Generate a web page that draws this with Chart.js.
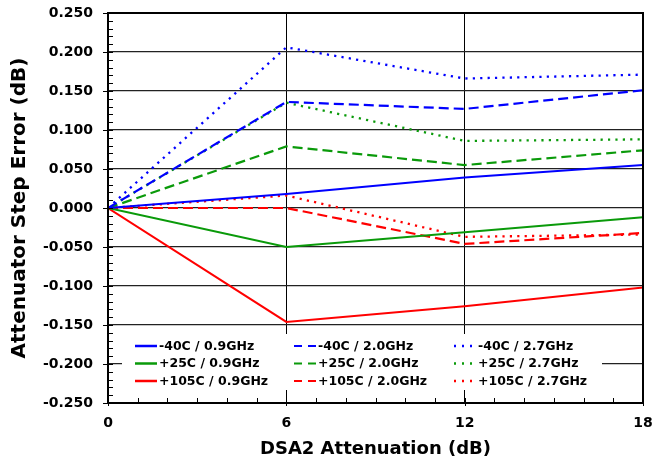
<!DOCTYPE html>
<html>
<head>
<meta charset="utf-8">
<script src="https://cdn.jsdelivr.net/npm/chart.js@4.4.0/dist/chart.umd.min.js"></script>
<style>
  html, body { margin: 0; padding: 0; background: #fff; }
</style>
</head>
<body>
<canvas id="chart" width="655" height="465"></canvas>
<script>
// DSA2 attenuation settings (dB)
const attenuation = [0, 6, 12, 18];

// step error (dB), 0.9 GHz
const m40_09 = [0, 0.018, 0.039, 0.055];
const p25_09 = [0, -0.050, -0.031, -0.012];
const p105_09 = [0, -0.146, -0.126, -0.102];
// 2.0 GHz
const m40_20 = [0, 0.136, 0.127, 0.151];
const p25_20 = [0, 0.079, 0.055, 0.074];
const p105_20 = [0, 0.000, -0.046, -0.032];
// 2.7 GHz
const m40_27 = [0, 0.206, 0.166, 0.171];
const p25_27 = [0, 0.135, 0.086, 0.088];
const p105_27 = [0, 0.016, -0.037, -0.034];

const yTicksMin = -0.25, yTicksMax = 0.25, yStep = 0.05;

const BLUE = '#0000ff', GREEN = '#0a9a0a', RED = '#ff0000';
const SOLID = [], DASHED = [10, 5], DOTTED = [2.2, 5.2];

// legend order: columns = frequency, rows = temperature
const series = [
  { label: '-40C / 0.9GHz', values: m40_09, color: BLUE, dash: SOLID, width: 2 },
  { label: '+25C / 0.9GHz', values: p25_09, color: GREEN, dash: SOLID, width: 2 },
  { label: '+105C / 0.9GHz', values: p105_09, color: RED, dash: SOLID, width: 2 },
  { label: '-40C / 2.0GHz', values: m40_20, color: BLUE, dash: DASHED, width: 2.2 },
  { label: '+25C / 2.0GHz', values: p25_20, color: GREEN, dash: DASHED, width: 2.2 },
  { label: '+105C / 2.0GHz', values: p105_20, color: RED, dash: DASHED, width: 2.2 },
  { label: '-40C / 2.7GHz', values: m40_27, color: BLUE, dash: DOTTED, width: 2.3 },
  { label: '+25C / 2.7GHz', values: p25_27, color: GREEN, dash: DOTTED, width: 2.3 },
  { label: '+105C / 2.7GHz', values: p105_27, color: RED, dash: DOTTED, width: 2.3 },
];

const FONT = "'DejaVu Sans', Verdana, sans-serif";

// inward ticks, full frame and a 3x3 legend box
const frameAndLegend = {
  id: 'frameAndLegend',
  afterDraw(chart) {
    const ctx = chart.ctx;
    const { left, right, top, bottom } = chart.chartArea;
    const xs = chart.scales.x, ys = chart.scales.y;
    ctx.save();
    ctx.strokeStyle = '#000';
    ctx.lineWidth = 1;
    for (let v = -250; v <= 250; v += 10) {
      const py = Math.round(ys.getPixelForValue(v / 1000)) + 0.5;
      const major = v % 50 === 0;
      ctx.beginPath();
      ctx.moveTo(major ? left - 5 : left, py);
      ctx.lineTo(left + 5, py);
      ctx.stroke();
    }
    for (let v = 0; v <= 18; v += 1) {
      const px = Math.round(xs.getPixelForValue(v)) + 0.5;
      const major = v % 6 === 0;
      ctx.beginPath();
      ctx.moveTo(px, major ? bottom + 3 : bottom);
      ctx.lineTo(px, bottom - 5);
      ctx.stroke();
    }
    ctx.lineWidth = 2;
    ctx.strokeRect(left, top, right - left, bottom - top);

    // legend
    const bx = 122, by = 334, bw = 480, bh = 56;
    ctx.fillStyle = '#fff';
    ctx.fillRect(bx, by, bw, bh);
    const colX = [135, 294, 454];
    const rowY = [346, 363.5, 381];
    ctx.font = 'bold 12.5px ' + FONT;
    ctx.textBaseline = 'middle';
    chart.data.datasets.forEach((ds, i) => {
      const c = Math.floor(i / 3), r = i % 3;
      const x = colX[c], y = rowY[r];
      ctx.strokeStyle = ds.borderColor;
      ctx.lineWidth = c === 0 ? 2.5 : ds.borderWidth;
      ctx.setLineDash(c === 0 ? [] : c === 1 ? [8, 6] : [2, 6]);
      ctx.beginPath();
      ctx.moveTo(x, y);
      ctx.lineTo(x + 22, y);
      ctx.stroke();
      ctx.setLineDash([]);
      ctx.fillStyle = '#000';
      ctx.fillText(ds.label, x + 24, y + 0.5);
    });
    ctx.restore();
  }
};

new Chart(document.getElementById('chart'), {
  type: 'line',
  data: {
    datasets: series.map(s => ({
      label: s.label,
      data: attenuation.map((a, i) => ({ x: a, y: s.values[i] })),
      borderColor: s.color,
      backgroundColor: s.color,
      borderDash: s.dash,
      borderWidth: s.width,
      pointRadius: 0,
      tension: 0,
      fill: false,
    })),
  },
  options: {
    responsive: false,
    animation: false,
    layout: { padding: { top: 13, right: 12, left: 0, bottom: 0 } },
    plugins: {
      legend: { display: false },
      tooltip: { enabled: false },
    },
    scales: {
      x: {
        type: 'linear',
        min: 0,
        max: 18,
        afterFit: s => { s.height = 62; s.paddingLeft = 0; s.paddingRight = 0; },
        ticks: {
          stepSize: 6,
          padding: 12,
          color: '#000',
          font: { family: FONT, size: 14, weight: 'bold' },
        },
        grid: { color: '#000', lineWidth: 1, drawTicks: false },
        border: { color: '#000', width: 2 },
        title: {
          display: true,
          text: 'DSA2 Attenuation (dB)',
          color: '#000',
          font: { family: FONT, size: 18, weight: 'bold' },
          padding: { top: 0, bottom: 5 },
        },
      },
      y: {
        min: yTicksMin,
        max: yTicksMax,
        afterFit: s => { s.width = 108; s.paddingTop = 0; s.paddingBottom = 0; },
        ticks: {
          stepSize: yStep,
          padding: 15,
          color: '#000',
          font: { family: FONT, size: 14, weight: 'bold' },
          callback: v => (Math.abs(v) < 1e-9 ? 0 : v).toFixed(3),
        },
        grid: { color: '#222', lineWidth: 1.2, drawTicks: false },
        border: { color: '#000', width: 2 },
        title: {
          display: true,
          text: 'Attenuator Step Error (dB)',
          color: '#000',
          font: { family: FONT, size: 20, weight: 'bold' },
          padding: { top: 8, bottom: 0 },
        },
      },
    },
  },
  plugins: [frameAndLegend],
});
</script>
</body>
</html>
